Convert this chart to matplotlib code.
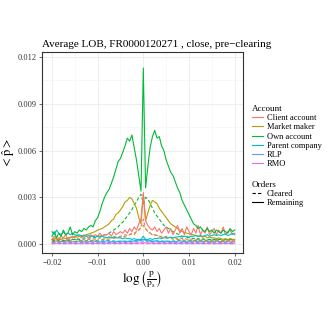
import numpy as np
import matplotlib
matplotlib.use("Agg")
import matplotlib.pyplot as plt
from matplotlib.lines import Line2D

# values are in units of 1e-3
x_fine = np.linspace(-0.02, 0.02, 81)
x_coarse = np.linspace(-0.02, 0.02, 41)

own_remaining = [0.5, 0.8, 0.4, 0.7, 0.5, 0.9, 0.6, 0.7, 1.1, 0.6,
                 0.8, 0.7, 0.9, 0.8, 1.0, 0.9, 1.1, 1.2, 1.1, 1.5,
                 1.7, 2.1, 2.6, 3.0, 3.3, 3.5, 3.9, 4.3, 4.8, 5.3,
                 5.5, 5.9, 6.3, 6.8, 6.6, 7.0, 6.2, 5.4, 4.4, 3.4,
                 11.3,
                 3.6, 5.0, 6.2, 6.9, 7.3, 6.8, 6.9, 6.3, 6.0, 5.4,
                 5.0, 4.6, 4.4, 4.0, 3.6, 3.3, 2.8, 2.5, 2.2, 1.9,
                 1.6, 1.3, 1.2, 1.0, 1.1, 0.9, 0.8, 1.0, 0.8, 0.9,
                 0.7, 0.9, 0.8, 0.7, 0.9, 0.8, 0.7, 1.0, 0.8, 0.9]
own_cleared = [0.3, 0.2, 0.3, 0.25, 0.3, 0.2, 0.3, 0.25, 0.3, 0.3,
               0.3, 0.35, 0.3, 0.35, 0.4, 0.35, 0.4, 0.4, 0.45, 0.4,
               0.5, 0.5, 0.55, 0.6, 0.6, 0.7, 0.8, 0.9, 1.0, 1.1,
               1.3, 1.4, 1.6, 1.8, 2.0, 2.2, 2.5, 2.7, 3.0, 3.2,
               2.6,
               3.0, 2.9, 2.6, 2.3, 2.0, 1.8, 1.6, 1.4, 1.2, 1.1,
               1.0, 0.9, 0.8, 0.7, 0.65, 0.6, 0.5, 0.5, 0.45, 0.4,
               0.4, 0.35, 0.4, 0.35, 0.3, 0.35, 0.3, 0.3, 0.3, 0.25,
               0.3, 0.25, 0.3, 0.3, 0.25, 0.3, 0.25, 0.3, 0.3, 0.3]
mm_remaining = [0.3, 0.4, 0.3, 0.4, 0.3, 0.4, 0.35, 0.4, 0.45, 0.4,
                0.5, 0.45, 0.5, 0.55, 0.5, 0.6, 0.65, 0.7, 0.75, 0.8,
                0.9, 0.95, 1.0, 1.1, 1.2, 1.3, 1.5, 1.6, 1.9, 2.0,
                2.2, 2.4, 2.7, 2.8, 3.0, 2.9, 2.6, 2.3, 1.7, 1.3,
                3.2,
                1.5, 2.0, 2.5, 2.8, 2.7, 2.6, 2.3, 2.1, 1.9, 1.7,
                1.5, 1.3, 1.2, 1.1, 1.0, 0.9, 0.8, 0.75, 0.7, 0.65,
                0.6, 0.6, 0.55, 0.5, 0.5, 0.45, 0.5, 0.4, 0.45, 0.4,
                0.4, 0.35, 0.4, 0.35, 0.3, 0.35, 0.3, 0.35, 0.3, 0.3]
client_remaining = [0.3, 0.5, 0.4, 0.3, 0.5, 0.4, 0.6, 0.3, 0.4, 0.5,
                    0.4, 0.6, 0.5, 0.4, 0.6, 0.5, 0.4, 0.6, 0.5, 0.6,
                    0.5, 0.7, 0.5, 0.6, 0.6, 0.7, 0.5, 0.8, 0.6, 0.7,
                    0.8, 0.7, 0.9, 0.7, 1.0, 0.8, 1.1, 0.9, 1.3, 1.6,
                    3.3,
                    1.5, 1.2, 1.0, 0.9, 1.1, 0.8, 1.0, 0.7, 0.9, 1.1,
                    0.7, 1.0, 0.6, 0.9, 1.2, 0.7, 1.0, 0.6, 1.1, 0.8,
                    0.6, 1.0, 0.7, 1.2, 0.6, 0.9, 0.7, 1.1, 0.6, 0.8,
                    1.0, 0.6, 0.9, 0.7, 1.1, 0.6, 0.8, 0.9, 0.6, 0.7]
client_cleared = [0.2, 0.3, 0.2, 0.25, 0.3, 0.2, 0.3, 0.25, 0.2, 0.3,
                  0.25, 0.3, 0.3, 0.25, 0.3, 0.35, 0.3, 0.3, 0.35, 0.3,
                  0.35, 0.4, 0.35, 0.4, 0.4, 0.45, 0.4, 0.5, 0.45, 0.5,
                  0.5, 0.55, 0.6, 0.55, 0.6, 0.7, 0.6, 0.8, 0.9, 1.1,
                  1.6,
                  1.0, 0.8, 0.7, 0.6, 0.6, 0.55, 0.5, 0.5, 0.45, 0.5,
                  0.45, 0.4, 0.45, 0.4, 0.35, 0.4, 0.35, 0.4, 0.3, 0.35,
                  0.3, 0.35, 0.3, 0.3, 0.25, 0.3, 0.3, 0.25, 0.3, 0.25,
                  0.3, 0.25, 0.3, 0.2, 0.25, 0.3, 0.2, 0.25, 0.2, 0.25]
parent_remaining = [0.8, 0.6, 0.9, 0.7, 0.6, 0.8, 0.6, 0.7, 0.6, 0.7,
                    0.6, 0.55, 0.6, 0.5, 0.55, 0.5, 0.55, 0.5, 0.5, 0.45,
                    0.5, 0.45, 0.5, 0.45, 0.4, 0.45, 0.4, 0.45, 0.4, 0.4,
                    0.4, 0.35, 0.4, 0.35, 0.35, 0.3, 0.35, 0.3, 0.3, 0.3,
                    0.5,
                    0.3, 0.3, 0.35, 0.3, 0.35, 0.35, 0.4, 0.35, 0.4, 0.4,
                    0.4, 0.45, 0.4, 0.45, 0.45, 0.5, 0.45, 0.5, 0.5, 0.45,
                    0.5, 0.5, 0.55, 0.5, 0.55, 0.5, 0.55, 0.6, 0.5, 0.55,
                    0.6, 0.55, 0.6, 0.55, 0.6, 0.65, 0.55, 0.6, 0.7, 0.6]
parent_cleared = [0.3, 0.25, 0.3, 0.2, 0.25, 0.3, 0.2, 0.25, 0.2, 0.25,
                  0.2, 0.2, 0.25, 0.2, 0.2, 0.15, 0.2, 0.15, 0.2, 0.2,
                  0.3,
                  0.2, 0.15, 0.2, 0.2, 0.15, 0.2, 0.2, 0.25, 0.2, 0.2,
                  0.25, 0.2, 0.25, 0.2, 0.25, 0.3, 0.2, 0.25, 0.3, 0.25]
mm_cleared = [0.15, 0.2, 0.15, 0.2, 0.2, 0.15, 0.2, 0.2, 0.25, 0.2,
              0.25, 0.3, 0.3, 0.35, 0.4, 0.45, 0.5, 0.6, 0.7, 0.9,
              1.2,
              0.8, 0.6, 0.55, 0.45, 0.4, 0.35, 0.3, 0.3, 0.25, 0.25,
              0.2, 0.25, 0.2, 0.2, 0.15, 0.2, 0.15, 0.2, 0.15, 0.15]
rlp_remaining = [0.15, 0.2, 0.15, 0.2, 0.15, 0.15, 0.2, 0.15, 0.15, 0.2,
                 0.15, 0.15, 0.2, 0.15, 0.15, 0.2, 0.15, 0.2, 0.2, 0.25,
                 0.3,
                 0.25, 0.2, 0.2, 0.15, 0.2, 0.15, 0.15, 0.2, 0.15, 0.15,
                 0.2, 0.15, 0.15, 0.2, 0.15, 0.2, 0.15, 0.15, 0.2, 0.15]
rlp_cleared = [0.08, 0.1, 0.08, 0.09, 0.1, 0.08, 0.09, 0.08, 0.1, 0.09,
               0.08, 0.1, 0.09, 0.1, 0.1, 0.12, 0.1, 0.12, 0.13, 0.15,
               0.2,
               0.15, 0.13, 0.12, 0.1, 0.12, 0.1, 0.1, 0.09, 0.1, 0.08,
               0.1, 0.09, 0.08, 0.1, 0.09, 0.08, 0.1, 0.08, 0.09, 0.08]
rmo_remaining = [0.05, 0.06, 0.05, 0.05, 0.06, 0.05, 0.05, 0.06, 0.05, 0.05,
                 0.06, 0.05, 0.05, 0.06, 0.05, 0.06, 0.06, 0.05, 0.06, 0.07,
                 0.08,
                 0.07, 0.06, 0.05, 0.06, 0.05, 0.06, 0.05, 0.05, 0.06, 0.05,
                 0.05, 0.06, 0.05, 0.05, 0.06, 0.05, 0.05, 0.06, 0.05, 0.05]
rmo_cleared = [0.02, 0.03, 0.02, 0.02, 0.03, 0.02, 0.02, 0.03, 0.02, 0.02,
               0.03, 0.02, 0.02, 0.03, 0.02, 0.03, 0.03, 0.02, 0.03, 0.03,
               0.04,
               0.03, 0.03, 0.02, 0.03, 0.02, 0.03, 0.02, 0.02, 0.03, 0.02,
               0.02, 0.03, 0.02, 0.02, 0.03, 0.02, 0.02, 0.03, 0.02, 0.02]

accounts = ["Client account", "Market maker", "Own account",
            "Parent company", "RLP", "RMO"]
colors = ["#F8766D", "#B79F00", "#00BA38", "#00BFC4", "#619CFF", "#F564E3"]

series = [
    # (account index, cleared?, x, values)
    (5, True, x_coarse, rmo_cleared),
    (5, False, x_coarse, rmo_remaining),
    (4, True, x_coarse, rlp_cleared),
    (4, False, x_coarse, rlp_remaining),
    (3, True, x_coarse, parent_cleared),
    (1, True, x_coarse, mm_cleared),
    (0, True, x_fine, client_cleared),
    (2, True, x_fine, own_cleared),
    (1, False, x_fine, mm_remaining),
    (0, False, x_fine, client_remaining),
    (3, False, x_fine, parent_remaining),
    (2, False, x_fine, own_remaining),
]

plt.rcParams['font.family'] = ['Liberation Serif', 'DejaVu Serif']
plt.rcParams['mathtext.fontset'] = 'stix'

fig = plt.figure(figsize=(3.3, 3.3), dpi=100)
ax = fig.add_axes([0.127, 0.233, 0.609, 0.609])

dash = (0, (3, 2))
for idx, cleared, xs, vals in series:
    ax.plot(xs, np.array(vals) * 1e-3, color=colors[idx], lw=0.8,
            linestyle=dash if cleared else '-')

ax.set_xlim(-0.0222, 0.0218)
ax.set_ylim(-0.00058, 0.01232)
ax.set_xticks([-0.02, -0.01, 0.0, 0.01, 0.02])
ax.set_xticklabels(["\u22120.02", "\u22120.01", "0.00", "0.01", "0.02"])
ax.set_yticks([0.0, 0.003, 0.006, 0.009, 0.012])
ax.set_yticklabels(["0.000", "0.003", "0.006", "0.009", "0.012"])
ax.set_xticks([-0.015, -0.005, 0.005, 0.015], minor=True)
ax.set_yticks([0.0015, 0.0045, 0.0075, 0.0105], minor=True)
ax.grid(which='major', color='#EBEBEB', lw=0.6)
ax.grid(which='minor', color='#F4F4F4', lw=0.4)
ax.set_axisbelow(True)
ax.tick_params(which='major', labelsize=6, colors='#333333', length=2.5,
               width=0.5, pad=1.5)
ax.tick_params(which='minor', length=0)
for s in ax.spines.values():
    s.set_color('#333333')
    s.set_linewidth(0.8)

ax.set_title("Average LOB, FR0000120271 , close, pre\u2212clearing",
             fontsize=8, loc='left', pad=4)
ax.set_xlabel(r'$\log\left(\frac{\mathrm{p}}{\mathrm{p_s}}\right)$', fontsize=9.5)
ax.xaxis.set_label_coords(0.5, -0.08)
ax.set_ylabel(r'$<\hat{\mathrm{p}}>$', fontsize=9)
ax.yaxis.set_label_coords(-0.122, 0.5)

acc_handles = [Line2D([], [], color=c, lw=0.8) for c in colors]
leg1 = fig.legend(acc_handles, accounts, title="Account", loc='upper left',
                  bbox_to_anchor=(0.75, 0.695), frameon=False, fontsize=6,
                  title_fontsize=6.5, handlelength=1.3, handletextpad=0.5,
                  labelspacing=0.15, borderpad=0, alignment='left')
ord_handles = [Line2D([], [], color='black', lw=0.8, linestyle=dash),
               Line2D([], [], color='black', lw=0.8)]
leg2 = fig.legend(ord_handles, ["Cleared", "Remaining"], title="Orders",
                  loc='upper left', bbox_to_anchor=(0.75, 0.465), frameon=False,
                  fontsize=6, title_fontsize=6.5, handlelength=1.3,
                  handletextpad=0.5, labelspacing=0.15, borderpad=0,
                  alignment='left')

fig.savefig("out.png", dpi=100)
